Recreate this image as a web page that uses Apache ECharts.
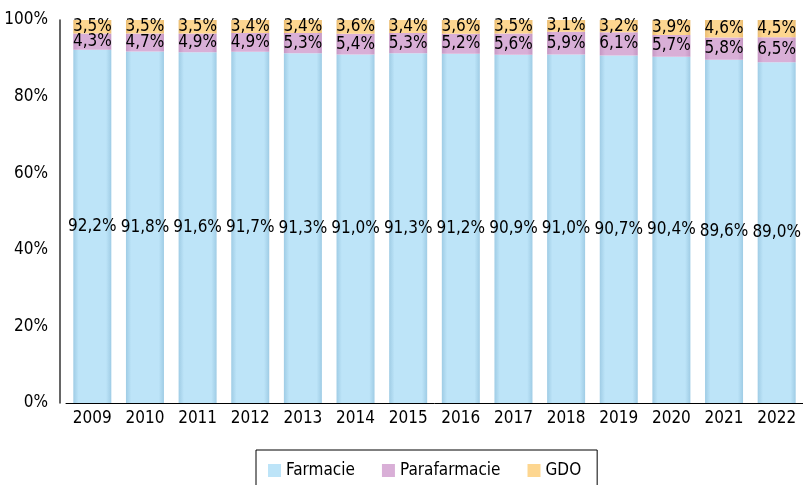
<!DOCTYPE html>
<html>
<head>
<meta charset="utf-8">
<script src="https://cdn.jsdelivr.net/npm/echarts@6/dist/echarts.min.js"></script>
<style>
  html, body { margin: 0; padding: 0; background: #fff; }
  #chart { width: 803px; height: 485px; }
</style>
</head>
<body>
<div id="chart"></div>
<script>
const years = ['2009', '2010', '2011', '2012', '2013', '2014', '2015', '2016', '2017', '2018', '2019', '2020', '2021', '2022']
const farmacie = [92.2, 91.8, 91.6, 91.7, 91.3, 91.0, 91.3, 91.2, 90.9, 91.0, 90.7, 90.4, 89.6, 89.0]
const parafarmacie = [4.3, 4.7, 4.9, 4.9, 5.3, 5.4, 5.3, 5.2, 5.6, 5.9, 6.1, 5.7, 5.8, 6.5]
const gdo = [3.5, 3.5, 3.5, 3.4, 3.4, 3.6, 3.4, 3.6, 3.5, 3.1, 3.2, 3.9, 4.6, 4.5]
const yTicks = ['0%', '20%', '40%', '60%', '80%', '100%']

const font = '"DejaVu Sans Condensed", sans-serif'
const colors = {
  Farmacie: ['#9fcce5', '#bde4f8'],
  Parafarmacie: ['#c597c3', '#d9afd7'],
  GDO: ['#ebbd72', '#fdd690']
}

function shade(name) {
  const c = colors[name]
  return {
    type: 'linear', x: 0, y: 0, x2: 1, y2: 0,
    colorStops: [
      { offset: 0, color: c[0] },
      { offset: 0.14, color: c[1] },
      { offset: 0.86, color: c[1] },
      { offset: 1, color: c[0] }
    ]
  }
}

function fmt(p) {
  return p.value.toFixed(1).replace('.', ',') + '%'
}

function makeSeries(name, data) {
  return {
    name: name,
    type: 'bar',
    stack: 'tot',
    barWidth: 38,
    data: data,
    itemStyle: { color: shade(name) },
    label: {
      show: true,
      position: 'inside',
      color: '#000',
      fontFamily: font,
      fontSize: 17,
      formatter: fmt
    }
  }
}

const chart = echarts.init(document.getElementById('chart'))
chart.setOption({
  animation: false,
  textStyle: { fontFamily: font },
  grid: { left: 66, right: 0, top: 20, bottom: 82 },
  legend: {
    left: 256,
    top: 450,
    padding: [12, 16, 10, 12],
    borderColor: '#000',
    borderWidth: 1,
    itemWidth: 13,
    itemHeight: 13,
    itemGap: 27,
    icon: 'rect',
    textStyle: { fontFamily: font, fontSize: 17, color: '#000' },
    data: Object.keys(colors).map(n => ({ name: n, itemStyle: { color: colors[n][1] } }))
  },
  xAxis: {
    type: 'category',
    data: years,
    axisLine: { lineStyle: { color: '#000', width: 1 } },
    axisTick: { show: false },
    axisLabel: { color: '#000', fontSize: 17, fontFamily: font, margin: 7 }
  },
  yAxis: {
    type: 'value',
    min: 0,
    max: 100,
    interval: 20,
    offset: 6,
    axisLine: { show: true, lineStyle: { color: '#333', width: 1.5 } },
    axisTick: { show: false },
    splitLine: { show: false },
    axisLabel: {
      color: '#000', fontSize: 17, fontFamily: font, margin: 12,
      formatter: (v) => yTicks[v / 20]
    }
  },
  series: [
    makeSeries('Farmacie', farmacie),
    makeSeries('Parafarmacie', parafarmacie),
    makeSeries('GDO', gdo)
  ]
})
</script>
</body>
</html>
